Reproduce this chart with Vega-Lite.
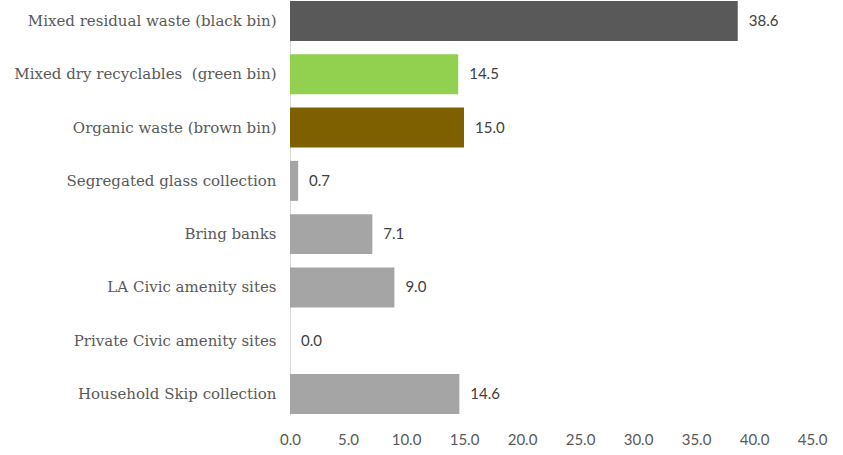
{
  "$schema": "https://vega.github.io/schema/vega-lite/v6.json",
  "autosize": "none",
  "width": 522,
  "height": 415,
  "padding": {"left": 290, "top": 0, "right": 31, "bottom": 40},
  "background": "white",
  "config": {"view": {"stroke": null}},
  "data": {
    "values": [
      {"category": "Mixed residual waste (black bin)", "value": 38.6, "group": "black"},
      {"category": "Mixed dry recyclables\u00a0 (green bin)", "value": 14.5, "group": "green"},
      {"category": "Organic waste (brown bin)", "value": 15.0, "group": "brown"},
      {"category": "Segregated glass collection", "value": 0.7, "group": "other"},
      {"category": "Bring banks", "value": 7.1, "group": "other"},
      {"category": "LA Civic amenity sites", "value": 9.0, "group": "other"},
      {"category": "Private Civic amenity sites", "value": 0.0, "group": "other"},
      {"category": "Household Skip collection", "value": 14.6, "group": "other"}
    ]
  },
  "encoding": {
    "y": {
      "field": "category",
      "type": "nominal",
      "sort": null,
      "scale": {"paddingInner": 0.25, "paddingOuter": 0.02},
      "axis": {
        "title": null,
        "ticks": false,
        "domain": true,
        "domainColor": "#d9d9d9",
        "domainWidth": 1,
        "labelFont": "DejaVu Serif",
        "labelFontSize": 15,
        "labelColor": "#595959",
        "labelPadding": 14,
        "labelLimit": 300
      }
    },
    "x": {
      "field": "value",
      "type": "quantitative",
      "scale": {"domain": [0, 45], "nice": false},
      "axis": {
        "title": null,
        "values": [0, 5, 10, 15, 20, 25, 30, 35, 40, 45],
        "format": ".1f",
        "grid": false,
        "ticks": false,
        "domain": false,
        "labelFlush": false,
        "labelOverlap": false,
        "labelFont": "Lato",
        "labelFontSize": 15,
        "labelColor": "#595959",
        "labelPadding": 17
      }
    }
  },
  "layer": [
    {
      "mark": {"type": "bar"},
      "encoding": {
        "color": {
          "field": "group",
          "type": "nominal",
          "scale": {"domain": ["black", "green", "brown", "other"], "range": ["#595959", "#92d050", "#7f6000", "#a5a5a5"]},
          "legend": null
        }
      }
    },
    {
      "mark": {"type": "text", "align": "left", "dx": 11, "font": "Lato", "fontSize": 15, "color": "#404040"},
      "encoding": {
        "text": {"field": "value", "type": "quantitative", "format": ".1f"}
      }
    }
  ]
}
